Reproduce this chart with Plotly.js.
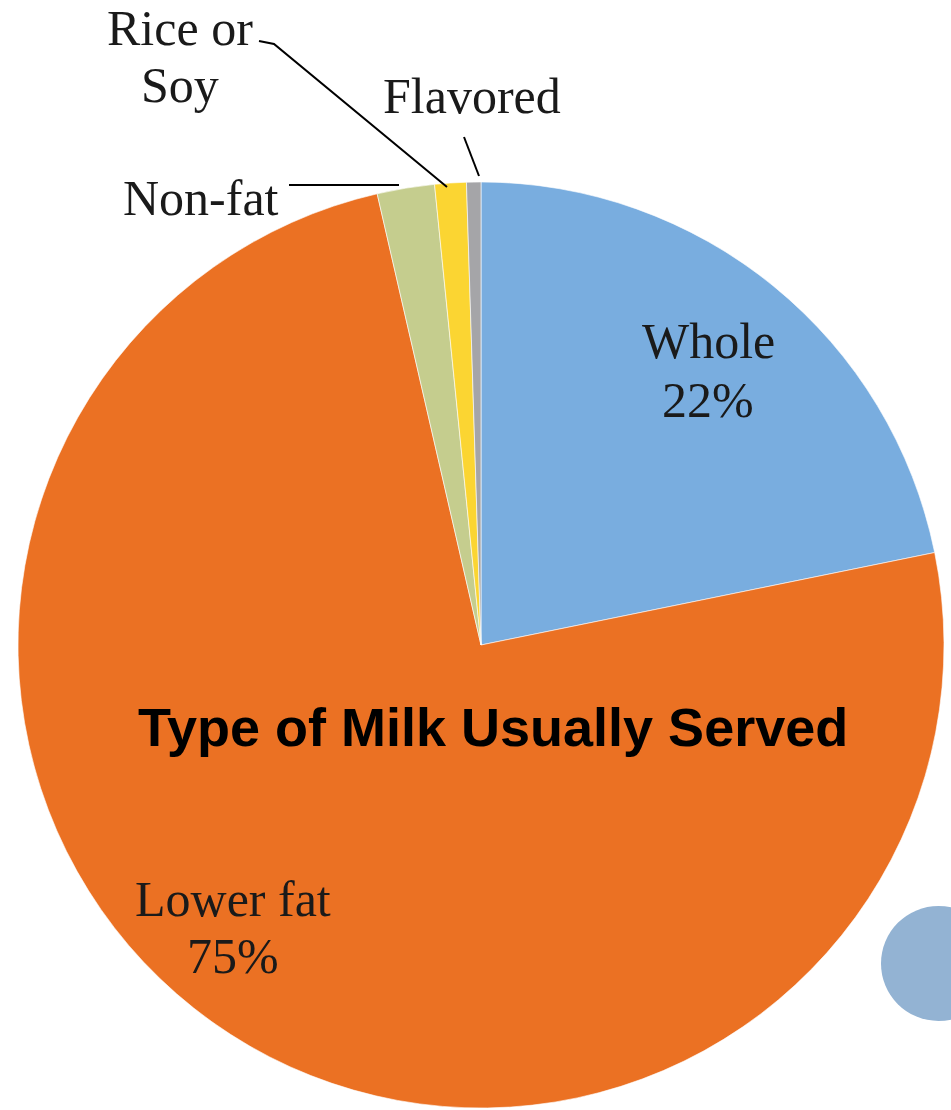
<!DOCTYPE html>
<html>
<head>
<meta charset="utf-8">
<script src="https://cdn.plot.ly/plotly-3.0.1.min.js"></script>
<style>html,body{margin:0;padding:0;background:#fff;}#chart{width:951px;height:1110px;}</style>
</head>
<body>
<div id="chart"></div>
<script>
// Data
const categories = ["Whole", "Lower fat", "Non-fat", "Rice or Soy", "Flavored"];
const values = [21.8, 74.6, 2.0, 1.1, 0.5];
const shownPercents = ["22%", "75%", "", "", ""];
const sliceColors = ["#79addf", "#eb7123", "#c5cd8e", "#fbd532", "#a5a5a8"];
const chartTitle = "Type of Milk Usually Served";

const W = 951, H = 1110;
const px = x => x / W;
const py = y => 1 - y / H;

const serif = "Liberation Serif, Times New Roman, serif";
const labelFont = {family: serif, size: 50, color: "#1a1a1a"};

const trace = {
  type: "pie",
  labels: categories,
  values: values,
  sort: false,
  direction: "clockwise",
  rotation: 0,
  textinfo: "none",
  hoverinfo: "label+percent",
  marker: {colors: sliceColors, line: {color: "rgba(255,255,255,0.6)", width: 1}},
  domain: {x: [px(18), px(944)], y: [py(1108), py(182)]},
  showlegend: false
};

const annotations = [
  {x: px(708), y: py(341), text: categories[0]},
  {x: px(708), y: py(400), text: shownPercents[0]},
  {x: px(233), y: py(899), text: categories[1]},
  {x: px(233), y: py(956), text: shownPercents[1]},
  {x: px(201), y: py(198), text: categories[2]},
  {x: px(180), y: py(28), text: "Rice or"},
  {x: px(180), y: py(85), text: "Soy"},
  {x: px(472), y: py(96), text: categories[4]}
].map(a => Object.assign({xref: "paper", yref: "paper", showarrow: false, font: labelFont, xanchor: "center", yanchor: "middle"}, a));

annotations.push({
  xref: "paper", yref: "paper", x: px(493), y: py(727), text: "<b>" + chartTitle + "</b>",
  showarrow: false, xanchor: "center", yanchor: "middle",
  font: {family: "Liberation Sans, Arial, sans-serif", size: 54, color: "#000"}
});

const lineStyle = {color: "#000", width: 2};
const shapes = [
  {type: "line", xref: "paper", yref: "paper", x0: px(289), y0: py(185), x1: px(399), y1: py(185), line: lineStyle},
  {type: "path", xref: "paper", yref: "paper",
   path: `M ${px(259)} ${py(41)} L ${px(274)} ${py(44)} L ${px(447)} ${py(187)}`, line: lineStyle},
  {type: "line", xref: "paper", yref: "paper", x0: px(464), y0: py(137), x1: px(479), y1: py(176), line: lineStyle},
  {type: "circle", xref: "paper", yref: "paper", x0: px(881), y0: py(906), x1: px(996), y1: py(1021),
   fillcolor: "#93b3d3", line: {width: 0}, layer: "below"}
];

const layout = {
  width: W, height: H,
  margin: {l: 0, r: 0, t: 0, b: 0},
  paper_bgcolor: "#fff",
  plot_bgcolor: "#fff",
  annotations: annotations,
  shapes: shapes
};

Plotly.newPlot("chart", [trace], layout, {displayModeBar: false, staticPlot: true});
</script>
</body>
</html>
